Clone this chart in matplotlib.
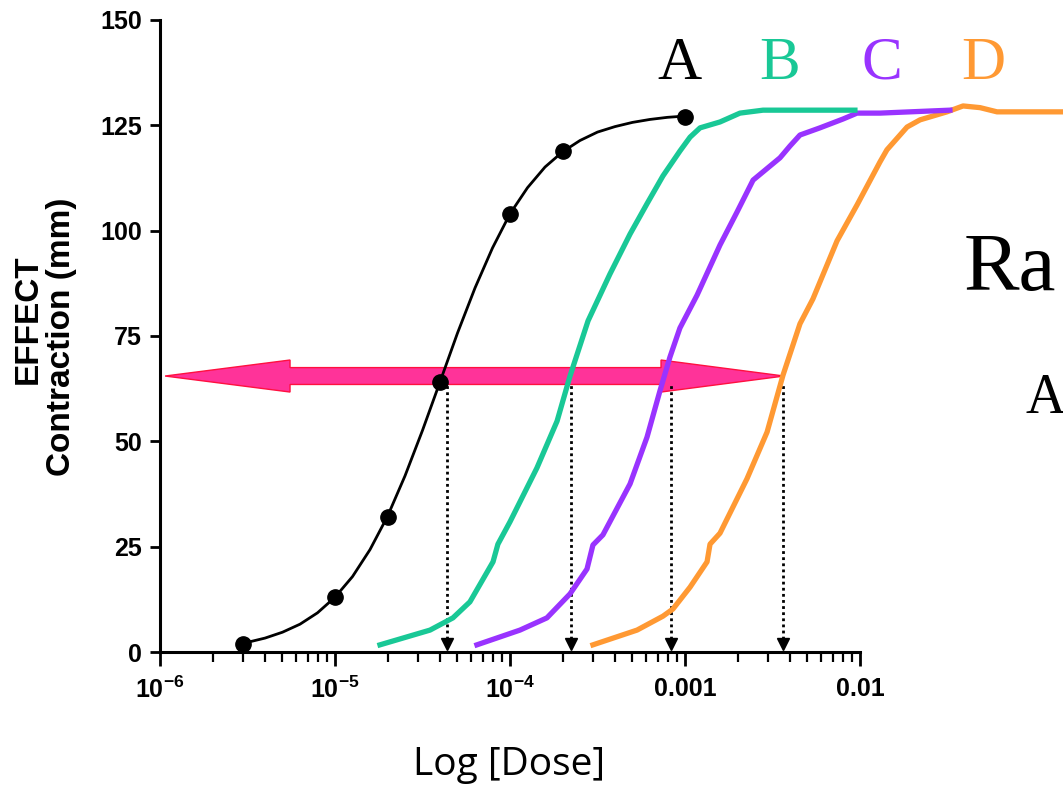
import numpy as np
import matplotlib.pyplot as plt
from matplotlib.ticker import FixedLocator, FixedFormatter
from matplotlib.patches import Polygon

plt.rcParams['mathtext.fontset'] = 'custom'
plt.rcParams['mathtext.rm'] = 'Liberation Sans:bold'
plt.rcParams['mathtext.bf'] = 'Liberation Sans:bold'

# measured points of agonist A (dose, contraction mm)
a_dose = [3e-6, 1e-5, 2e-5, 4e-5, 1e-4, 2e-4, 1e-3]
a_resp = [2, 13, 32, 64, 104, 119, 127]

# fitted curve of A (log10 dose, contraction)
a_curve_logx = [-5.52, -5.4, -5.3, -5.2, -5.1, -5.0, -4.9, -4.8, -4.7, -4.6, -4.5, -4.4,
                -4.3, -4.2, -4.1, -4.0, -3.9, -3.8, -3.7, -3.6, -3.5, -3.4, -3.3, -3.2,
                -3.1, -3.0]
a_curve_y = [2.1, 3.3, 4.7, 6.6, 9.3, 13.0, 17.9, 24.3, 32.2, 41.8, 52.6, 64.1,
             75.7, 86.4, 95.9, 104.0, 110.2, 115.1, 118.7, 121.4, 123.4, 124.7, 125.7, 126.4,
             126.9, 127.2]

# agonist B
b_logx = [-4.743, -4.457, -4.326, -4.229, -4.097, -4.069, -4.0, -3.846, -3.731, -3.657,
          -3.554, -3.429, -3.314, -3.217, -3.126, -3.029, -2.971, -2.914, -2.8, -2.686,
          -2.554, -2.029]
b_y = [1.7, 5.2, 8.1, 11.9, 21.4, 25.6, 30.9, 43.7, 54.8, 65.5,
       78.6, 89.7, 99.2, 106.4, 113.0, 118.9, 122.2, 124.4, 125.8, 127.9,
       128.6, 128.6]

# agonist C
c_logx = [-4.189, -3.943, -3.789, -3.657, -3.56, -3.526, -3.469, -3.314, -3.217, -3.143,
          -3.086, -3.029, -2.931, -2.8, -2.703, -2.611, -2.457, -2.4, -2.343, -2.229,
          -2.097, -2.017, -1.886, -1.486]
c_y = [1.7, 5.2, 8.1, 13.8, 19.7, 25.4, 27.8, 39.9, 51.0, 62.0,
       70.0, 76.9, 84.7, 96.6, 104.4, 112.0, 117.3, 120.1, 122.7, 124.4,
       126.5, 127.9, 127.9, 128.6]

# agonist D
d_logx = [-3.526, -3.274, -3.126, -3.069, -2.971, -2.874, -2.857, -2.8, -2.646, -2.531,
          -2.44, -2.343, -2.269, -2.131, -2.017, -1.886, -1.846, -1.731, -1.657, -1.503,
          -1.411, -1.314, -1.217, -0.84]
d_y = [1.7, 5.2, 8.5, 10.2, 15.4, 21.4, 25.6, 28.2, 41.1, 52.2,
       65.7, 77.9, 83.8, 97.6, 106.1, 116.3, 119.2, 124.6, 126.3, 128.2,
       129.6, 129.2, 128.2, 128.2]

# EC50 drop lines
ec50_doses = [4.37e-5, 2.23e-4, 8.3e-4, 3.63e-3]

curve_names = ['A', 'B', 'C', 'D']
curve_colors = ['black', '#19c896', '#9933ff', '#ff9933']
label_doses = [9.35e-4, 3.49e-3, 1.34e-2, 5.05e-2]

x_ticks = [1e-6, 1e-5, 1e-4, 1e-3, 1e-2]
x_tick_labels = ['$10^{-6}$', '$10^{-5}$', '$10^{-4}$', '0.001', '0.01']
y_ticks = [0, 25, 50, 75, 100, 125, 150]

fig = plt.figure(figsize=(10.63, 7.92), dpi=100)
ax = fig.add_axes([160 / 1063, 140 / 792, 903 / 1063, 632 / 792])
ax.set_xscale('log')
ax.set_xlim(1e-6, 10 ** -0.84)
ax.set_ylim(0, 150)

# big double arrow (drawn first so the curves sit on top)
arrow = Polygon([(10 ** -5.971, 65.5), (10 ** -5.257, 69.3), (10 ** -5.257, 67.5),
                 (10 ** -3.137, 67.5), (10 ** -3.137, 69.3), (10 ** -2.434, 65.5),
                 (10 ** -3.137, 61.7), (10 ** -3.137, 63.5), (10 ** -5.257, 63.5),
                 (10 ** -5.257, 61.7)], closed=True,
                facecolor='#ff3399', edgecolor='#ff1040', lw=1, zorder=2)
ax.add_patch(arrow)

# dotted drop lines with triangles
ax.vlines(ec50_doses, 3, 63.5, colors='black', linestyles=(0, (1, 1.2)), lw=2, zorder=3)
ax.plot(ec50_doses, [1.9] * len(ec50_doses), 'v', color='black', ms=8, clip_on=False, zorder=3)

ax.plot(10 ** np.array(a_curve_logx), a_curve_y, color='black', lw=2, zorder=4)
ax.plot(a_dose, a_resp, 'o', color='black', ms=11, clip_on=False, zorder=5)
ax.plot(10 ** np.array(b_logx), b_y, color=curve_colors[1], lw=3.8, zorder=4)
ax.plot(10 ** np.array(c_logx), c_y, color=curve_colors[2], lw=3.8, zorder=3.9)
ax.plot(10 ** np.array(d_logx), d_y, color=curve_colors[3], lw=3.8, zorder=3.8)

for name, col, xd in zip(curve_names, curve_colors, label_doses):
    ax.text(xd, 139.5, name, color=col, fontsize=44, family=['Liberation Serif', 'DejaVu Serif'],
            ha='center', va='center')

# axes styling
for s in ['top', 'right']:
    ax.spines[s].set_visible(False)
ax.spines['left'].set_linewidth(2.2)
ax.spines['bottom'].set_linewidth(2.2)
ax.spines['bottom'].set_bounds(1e-6, 1e-2)
ax.spines['left'].set_bounds(0, 150)

ax.xaxis.set_major_locator(FixedLocator(x_ticks))
ax.xaxis.set_major_formatter(FixedFormatter(x_tick_labels))
minor = [k * 10.0 ** e for e in range(-6, -2) for k in range(2, 10)]
ax.xaxis.set_minor_locator(FixedLocator(minor))
ax.xaxis.set_minor_formatter(FixedFormatter([''] * len(minor)))
ax.set_yticks(y_ticks)
ax.tick_params(axis='x', which='major', direction='out', length=10, width=2, pad=8)
ax.tick_params(axis='x', which='minor', direction='out', length=7, width=1.6)
ax.tick_params(axis='y', direction='out', length=7, width=2, pad=6)
for lab in ax.get_xticklabels() + ax.get_yticklabels():
    lab.set_fontfamily(['Liberation Sans', 'DejaVu Sans'])
    lab.set_fontweight('bold')
    lab.set_fontsize(18)

fig.text(28 / 1063, 1 - 319 / 792, 'EFFECT', rotation=90, fontsize=24, fontweight='bold',
         family=['Liberation Sans', 'DejaVu Sans'], ha='center', va='center')
fig.text(62 / 1063, 1 - 337 / 792, 'Contraction (mm)', rotation=90, fontsize=24,
         fontweight='bold', family=['Liberation Sans', 'DejaVu Sans'], ha='center', va='center')
fig.text(509 / 1063, 1 - 765 / 792, 'Log [Dose]', fontsize=28,
         family=['Open Sans', 'Liberation Sans', 'DejaVu Sans'],
         ha='center', va='center')

fig.text(964 / 1063, 1 - 290 / 792, 'Ra', fontsize=60,
         family=['Liberation Serif', 'DejaVu Serif'], ha='left', va='baseline')
fig.text(1025 / 1063, 1 - 413 / 792, 'A', fontsize=40,
         family=['Liberation Serif', 'DejaVu Serif'], ha='left', va='baseline')

fig.savefig('out.png', dpi=100)
